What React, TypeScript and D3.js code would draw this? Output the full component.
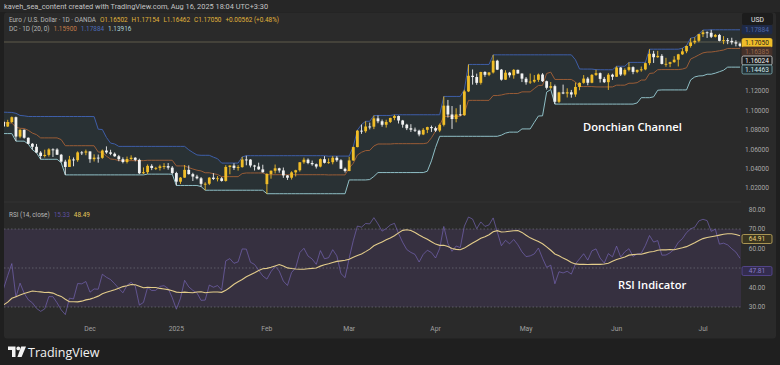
import React, { useMemo } from 'react';
import * as d3 from 'd3';

// EUR/USD daily, OANDA. The first WARMUP bars (Sep 16 – Oct 31 2024) sit left of the
// visible window; they only feed the Donchian channel and the RSI.
const WARMUP = 34;
const FIRST_DAY = '2024-09-16';
const MARKET_CLOSED = ['2024-12-25', '2025-01-01'];
const DC_LEN = 20;
const RSI_LEN = 14;
const RSI_MA_LEN = 14;

const candleOpen = [
  1.1076, 1.1132, 1.1115, 1.1118, 1.1161, 1.1163, 1.1112, 1.1180, 1.1133, 1.1177, 1.1164,
  1.1135, 1.1068, 1.1045, 1.1032, 1.0974, 1.0973, 1.0978, 1.0940, 1.0937, 1.0937, 1.0910, 1.0890, 1.0862, 1.0832, 1.0866, 1.0817, 1.0796, 1.0779, 1.0827, 1.0797, 1.0815, 1.0817, 1.0856,
  1.0883, 1.0834, 1.0880, 1.0930, 1.0730, 1.0800, 1.0718, 1.0656, 1.0625, 1.0565, 1.0530, 1.0541, 1.0598, 1.0597, 1.0543, 1.0472, 1.0417, 1.0494, 1.0487, 1.0567, 1.0565,
  1.0577, 1.0497, 1.0513, 1.0511, 1.0586, 1.0567, 1.0553, 1.0527, 1.0497, 1.0468, 1.0499, 1.0512, 1.0490, 1.0352, 1.0363, 1.0428, 1.0406, 1.0407, 1.0423, 1.0426, 1.0410,
  1.0354, 1.0265, 1.0307, 1.0387, 1.0343, 1.0318, 1.0300, 1.0243, 1.0244, 1.0307, 1.0293, 1.0300, 1.0273, 1.0417, 1.0431, 1.0407, 1.0415, 1.0494, 1.0493, 1.0432, 1.0421, 1.0392,
  1.0240, 1.0345, 1.0378, 1.0403, 1.0381, 1.0330, 1.0306, 1.0361, 1.0383, 1.0465, 1.0492, 1.0458, 1.0445, 1.0421, 1.0497, 1.0460, 1.0466, 1.0512, 1.0486, 1.0398,
  1.0375, 1.0484, 1.0622, 1.0791, 1.0785, 1.0834, 1.0832, 1.0918, 1.0888, 1.0852, 1.0881, 1.0922, 1.0942, 1.0896, 1.0853, 1.0816, 1.0801, 1.0791, 1.0752, 1.0800, 1.0828,
  1.0817, 1.0792, 1.0851, 1.1049, 1.0958, 1.0911, 1.0959, 1.0950, 1.1196, 1.1357, 1.1344, 1.1284, 1.1396, 1.1367, 1.1391, 1.1512, 1.1420, 1.1317, 1.1389, 1.1362, 1.1418, 1.1380,
  1.1327, 1.1290, 1.1297, 1.1315, 1.1370, 1.1301, 1.1233, 1.1250, 1.1089, 1.1185, 1.1174, 1.1187, 1.1164, 1.1242, 1.1284, 1.1328, 1.1285, 1.1366, 1.1384, 1.1325, 1.1291, 1.1368,
  1.1347, 1.1442, 1.1370, 1.1418, 1.1446, 1.1397, 1.1418, 1.1423, 1.1487, 1.1584, 1.1548, 1.1562, 1.1479, 1.1480, 1.1497, 1.1523, 1.1578, 1.1609, 1.1664, 1.1701, 1.1718,
  1.1786, 1.1805, 1.1800, 1.1759, 1.1778, 1.1717, 1.1724, 1.1717, 1.1702, 1.1689,
];

const candleHigh = [
  1.1134, 1.1147, 1.1189, 1.1180, 1.1179, 1.1168, 1.1182, 1.1214, 1.1190, 1.1203, 1.1209,
  1.1146, 1.1083, 1.1058, 1.1049, 1.0982, 1.0980, 1.0979, 1.0970, 1.0948, 1.0944, 1.0912, 1.0895, 1.0870, 1.0868, 1.0868, 1.0836, 1.0804, 1.0827, 1.0838, 1.0823, 1.0822, 1.0870, 1.0885,
  1.0905, 1.0903, 1.0937, 1.0936, 1.0806, 1.0803, 1.0721, 1.0663, 1.0654, 1.0580, 1.0595, 1.0610, 1.0609, 1.0610, 1.0551, 1.0491, 1.0531, 1.0515, 1.0578, 1.0581, 1.0596,
  1.0578, 1.0547, 1.0545, 1.0596, 1.0629, 1.0594, 1.0566, 1.0541, 1.0516, 1.0524, 1.0537, 1.0518, 1.0502, 1.0412, 1.0443, 1.0445, 1.0418, 1.0440, 1.0456, 1.0457, 1.0426,
  1.0367, 1.0313, 1.0437, 1.0433, 1.0357, 1.0336, 1.0313, 1.0259, 1.0312, 1.0353, 1.0323, 1.0313, 1.0435, 1.0434, 1.0455, 1.0435, 1.0521, 1.0533, 1.0497, 1.0439, 1.0461, 1.0440,
  1.0352, 1.0381, 1.0442, 1.0409, 1.0411, 1.0333, 1.0373, 1.0388, 1.0467, 1.0513, 1.0505, 1.0483, 1.0452, 1.0505, 1.0528, 1.0505, 1.0529, 1.0528, 1.0497, 1.0411,
  1.0522, 1.0627, 1.0797, 1.0854, 1.0888, 1.0874, 1.0947, 1.0948, 1.0906, 1.0904, 1.0925, 1.0955, 1.0947, 1.0902, 1.0862, 1.0858, 1.0823, 1.0801, 1.0818, 1.0832, 1.0844,
  1.0833, 1.0865, 1.1144, 1.1108, 1.1045, 1.1022, 1.1058, 1.1214, 1.1474, 1.1422, 1.1379, 1.1398, 1.1404, 1.1394, 1.1573, 1.1522, 1.1427, 1.1414, 1.1397, 1.1426, 1.1420, 1.1381,
  1.1344, 1.1380, 1.1364, 1.1380, 1.1384, 1.1307, 1.1293, 1.1266, 1.1192, 1.1266, 1.1228, 1.1211, 1.1287, 1.1288, 1.1364, 1.1345, 1.1375, 1.1419, 1.1391, 1.1345, 1.1384, 1.1378,
  1.1455, 1.1447, 1.1434, 1.1495, 1.1454, 1.1420, 1.1452, 1.1494, 1.1631, 1.1614, 1.1614, 1.1580, 1.1542, 1.1502, 1.1559, 1.1583, 1.1641, 1.1668, 1.1745, 1.1754, 1.1789,
  1.1829, 1.1815, 1.1831, 1.1788, 1.1789, 1.1766, 1.1746, 1.1749, 1.1723, 1.1700,
];

const candleLow = [
  1.1075, 1.1115, 1.1087, 1.1118, 1.1132, 1.1083, 1.1104, 1.1121, 1.1120, 1.1143, 1.1134,
  1.1032, 1.1031, 1.1003, 1.0951, 1.0954, 1.0955, 1.0935, 1.0918, 1.0926, 1.0900, 1.0885, 1.0860, 1.0811, 1.0825, 1.0812, 1.0796, 1.0761, 1.0774, 1.0795, 1.0790, 1.0792, 1.0804, 1.0836,
  1.0832, 1.0829, 1.0870, 1.0683, 1.0713, 1.0708, 1.0653, 1.0595, 1.0563, 1.0496, 1.0515, 1.0524, 1.0520, 1.0540, 1.0461, 1.0335, 1.0417, 1.0424, 1.0470, 1.0540, 1.0538,
  1.0460, 1.0473, 1.0461, 1.0501, 1.0553, 1.0538, 1.0522, 1.0476, 1.0454, 1.0453, 1.0488, 1.0475, 1.0343, 1.0343, 1.0344, 1.0384, 1.0385, 1.0380, 1.0394, 1.0389, 1.0342,
  1.0226, 1.0242, 1.0305, 1.0339, 1.0272, 1.0289, 1.0215, 1.0177, 1.0230, 1.0282, 1.0268, 1.0266, 1.0266, 1.0341, 1.0386, 1.0379, 1.0410, 1.0434, 1.0412, 1.0380, 1.0387, 1.0359,
  1.0141, 1.0296, 1.0350, 1.0358, 1.0305, 1.0283, 1.0287, 1.0319, 1.0369, 1.0450, 1.0445, 1.0430, 1.0401, 1.0413, 1.0453, 1.0449, 1.0444, 1.0470, 1.0398, 1.0359,
  1.0373, 1.0480, 1.0619, 1.0758, 1.0769, 1.0804, 1.0807, 1.0868, 1.0832, 1.0823, 1.0870, 1.0899, 1.0865, 1.0822, 1.0797, 1.0778, 1.0777, 1.0733, 1.0745, 1.0766, 1.0778,
  1.0778, 1.0776, 1.0835, 1.0926, 1.0809, 1.0877, 1.0942, 1.0944, 1.1189, 1.1266, 1.1264, 1.1266, 1.1346, 1.1353, 1.1380, 1.1416, 1.1307, 1.1315, 1.1339, 1.1327, 1.1379, 1.1292,
  1.1265, 1.1273, 1.1284, 1.1294, 1.1293, 1.1215, 1.1220, 1.1065, 1.1077, 1.1167, 1.1133, 1.1131, 1.1140, 1.1208, 1.1275, 1.1259, 1.1280, 1.1355, 1.1287, 1.1282, 1.1211, 1.1314,
  1.1345, 1.1355, 1.1357, 1.1402, 1.1373, 1.1384, 1.1399, 1.1414, 1.1466, 1.1489, 1.1542, 1.1474, 1.1450, 1.1446, 1.1492, 1.1453, 1.1572, 1.1590, 1.1647, 1.1683, 1.1703,
  1.1756, 1.1747, 1.1746, 1.1752, 1.1712, 1.1683, 1.1683, 1.1679, 1.1660, 1.1652,
];

const candleClose = [
  1.1132, 1.1115, 1.1118, 1.1161, 1.1163, 1.1112, 1.1180, 1.1133, 1.1177, 1.1164, 1.1135,
  1.1068, 1.1045, 1.1032, 1.0974, 1.0973, 1.0978, 1.0940, 1.0937, 1.0937, 1.0910, 1.0890, 1.0862, 1.0832, 1.0866, 1.0817, 1.0796, 1.0779, 1.0827, 1.0797, 1.0815, 1.0817, 1.0856, 1.0883,
  1.0834, 1.0880, 1.0930, 1.0730, 1.0800, 1.0718, 1.0656, 1.0625, 1.0565, 1.0530, 1.0541, 1.0598, 1.0597, 1.0543, 1.0472, 1.0417, 1.0494, 1.0487, 1.0567, 1.0565, 1.0577,
  1.0497, 1.0513, 1.0511, 1.0586, 1.0567, 1.0553, 1.0527, 1.0497, 1.0468, 1.0499, 1.0512, 1.0490, 1.0352, 1.0363, 1.0428, 1.0406, 1.0407, 1.0423, 1.0426, 1.0410, 1.0354,
  1.0265, 1.0307, 1.0387, 1.0343, 1.0318, 1.0300, 1.0243, 1.0244, 1.0307, 1.0293, 1.0300, 1.0273, 1.0417, 1.0431, 1.0407, 1.0415, 1.0494, 1.0493, 1.0432, 1.0421, 1.0392, 1.0362,
  1.0345, 1.0378, 1.0403, 1.0381, 1.0330, 1.0306, 1.0361, 1.0383, 1.0465, 1.0492, 1.0458, 1.0445, 1.0421, 1.0497, 1.0460, 1.0466, 1.0512, 1.0486, 1.0398, 1.0375,
  1.0484, 1.0622, 1.0791, 1.0785, 1.0834, 1.0832, 1.0918, 1.0888, 1.0852, 1.0881, 1.0922, 1.0942, 1.0896, 1.0853, 1.0816, 1.0801, 1.0791, 1.0752, 1.0800, 1.0828, 1.0817,
  1.0792, 1.0851, 1.1049, 1.0958, 1.0911, 1.0959, 1.0950, 1.1196, 1.1357, 1.1344, 1.1284, 1.1396, 1.1367, 1.1391, 1.1512, 1.1420, 1.1317, 1.1389, 1.1362, 1.1418, 1.1380, 1.1327,
  1.1290, 1.1297, 1.1315, 1.1370, 1.1301, 1.1233, 1.1250, 1.1089, 1.1185, 1.1174, 1.1187, 1.1164, 1.1242, 1.1284, 1.1328, 1.1285, 1.1366, 1.1384, 1.1325, 1.1291, 1.1368, 1.1347,
  1.1442, 1.1370, 1.1418, 1.1446, 1.1397, 1.1418, 1.1423, 1.1487, 1.1584, 1.1548, 1.1562, 1.1479, 1.1480, 1.1497, 1.1523, 1.1578, 1.1609, 1.1664, 1.1701, 1.1718, 1.1786,
  1.1805, 1.1800, 1.1759, 1.1778, 1.1717, 1.1724, 1.1717, 1.1702, 1.1689, 1.1665,
];

const priceTicks = [1.02, 1.04, 1.06, 1.08, 1.1, 1.12];
const rsiTicks = [80, 70, 60, 40, 30];
const rsiBands = [70, 50, 30];
const monthNames = ['Jan', 'Feb', 'Mar', 'Apr', 'May', 'Jun', 'Jul', 'Aug', 'Sep', 'Oct', 'Nov', 'Dec'];

const lastPrice = 1.1705;
const headerSymbol = 'Euro / U.S. Dollar · 1D · OANDA';
const headerOhlc = ['O1.16502', 'H1.17154', 'L1.16462', 'C1.17050', '+0.00562 (+0.48%)'];
const headerDc = ['1.15900', '1.17884', '1.13916'];
const headerRsi = ['15.33', '48.49'];
const priceTags = { upper: '1.17884', close: '1.17050', basis: '1.16385', mark: '1.16024', lower: '1.14463' };
const rsiTags = { ma: '64.91', rsi: '47.81' };

function tradingDays(start: string, count: number): Date[] {
  const out: Date[] = [];
  const d = new Date(start + 'T00:00:00Z');
  while (out.length < count) {
    const dow = d.getUTCDay();
    const iso = d.toISOString().slice(0, 10);
    if (dow !== 0 && dow !== 6 && !MARKET_CLOSED.includes(iso)) out.push(new Date(d));
    d.setUTCDate(d.getUTCDate() + 1);
  }
  return out;
}

function wilderRsi(closes: number[], len: number): number[] {
  const out = closes.map(() => NaN);
  let ag = 0, al = 0;
  for (let i = 1; i < closes.length; i++) {
    const ch = closes[i] - closes[i - 1];
    const g = Math.max(ch, 0), l = Math.max(-ch, 0);
    if (i <= len) {
      ag += g / len;
      al += l / len;
    } else {
      ag = (ag * (len - 1) + g) / len;
      al = (al * (len - 1) + l) / len;
    }
    if (i >= len) out[i] = al === 0 ? 100 : 100 - 100 / (1 + ag / al);
  }
  return out;
}

const FONT = "Roboto, 'Noto Sans', sans-serif";
const BOLD = "'Open Sans', 'Noto Sans', sans-serif";

const Tag = ({ y, text, fill, stroke, color }: { y: number; text: string; fill: string; stroke: string; color: string }) => (
  <g>
    <rect x={742} y={y - 4.5} width={30} height={9} rx={1.5} fill={fill} stroke={stroke} strokeWidth={0.8} />
    <text x={757} y={y + 2.4} textAnchor="middle" fontSize={6.6} fill={color} fontFamily={FONT}>{text}</text>
  </g>
);

export default function App() {
  const W = 780, H = 365;
  const n = candleClose.length;

  const calc = useMemo(() => {
    const dates = tradingDays(FIRST_DAY, n);
    const upper = candleHigh.map((_, i) => d3.max(candleHigh.slice(Math.max(0, i - DC_LEN + 1), i + 1)) as number);
    const lower = candleLow.map((_, i) => d3.min(candleLow.slice(Math.max(0, i - DC_LEN + 1), i + 1)) as number);
    const basis = upper.map((u, i) => (u + lower[i]) / 2);
    const rsi = wilderRsi(candleClose, RSI_LEN);
    const rsiMa = rsi.map((_, i) => {
      const win = rsi.slice(Math.max(0, i - RSI_MA_LEN + 1), i + 1).filter((v) => !isNaN(v));
      return win.length === RSI_MA_LEN ? (d3.mean(win) as number) : NaN;
    });
    return { dates, upper, lower, basis, rsi, rsiMa };
  }, [n]);

  // layout
  const plotL = 4, plotR = 741;
  const priceTop = 13, priceBot = 201;
  const rsiTop = 203, rsiBot = 317;

  const x = d3.scaleLinear().domain([WARMUP, n - 1]).range([3.6, 3.6 + 4.114 * (n - 1 - WARMUP)]);
  const yP = d3.scaleLinear().domain([1.02, 1.12]).range([188, 91]);
  const yR = d3.scaleLinear().domain([30, 70]).range([307, 229]);

  const idx = d3.range(WARMUP - 1, n);

  const lineOf = (arr: number[], y: (v: number) => number) =>
    d3.line<number>().defined((i) => !isNaN(arr[i])).x((i) => x(i)).y((i) => y(arr[i]))(idx) || '';

  const channelArea = d3.area<number>()
    .x((i) => x(i))
    .y0((i) => yP(calc.lower[i]))
    .y1((i) => yP(calc.upper[i]))(idx) || '';

  const monthTicks: { i: number; label: string }[] = [];
  for (let i = WARMUP + 1; i < n; i++) {
    const a = calc.dates[i - 1], b = calc.dates[i];
    if (a.getUTCMonth() !== b.getUTCMonth()) {
      monthTicks.push({ i, label: b.getUTCMonth() === 0 ? String(b.getUTCFullYear()) : monthNames[b.getUTCMonth()] });
    }
  }

  const up = '#f0bd28';
  const down = '#f2f2f2';
  const bodyW = 2.8;

  return (
    <svg width={W} height={H} viewBox={`0 0 ${W} ${H}`} style={{ position: 'fixed', left: 0, top: 0, display: 'block' }}>
      <defs>
        <clipPath id="price-clip"><rect x={plotL} y={priceTop} width={plotR - plotL} height={priceBot - priceTop} /></clipPath>
        <clipPath id="rsi-clip"><rect x={plotL} y={rsiTop} width={plotR - plotL} height={rsiBot - rsiTop} /></clipPath>
      </defs>

      {/* frame */}
      <rect x={0} y={0} width={W} height={H} fill="#1f1f1f" />
      <rect x={0} y={0} width={W} height={12} fill="#262626" />
      <rect x={4} y={12.5} width={772} height={326} rx={3} fill="#2a2a2a" />
      <text x={4} y={8.6} fontSize={7.4} fill="#c4c4c4" fontFamily={FONT}>
        kaveh_sea_content created with TradingView.com, Aug 16, 2025 18:04 UTC+3:30
      </text>

      {/* price pane */}
      <g clipPath="url(#price-clip)">
        <path d={channelArea} fill="#2b8fb3" opacity={0.08} />
        <line x1={plotL} x2={plotR} y1={yP(lastPrice)} y2={yP(lastPrice)} stroke="#8c8466" strokeWidth={0.8} opacity={0.7} />
        <path d={lineOf(calc.upper, yP)} fill="none" stroke="#3e5ea8" strokeWidth={1} />
        <path d={lineOf(calc.basis, yP)} fill="none" stroke="#9a5c36" strokeWidth={1} />
        <path d={lineOf(calc.lower, yP)} fill="none" stroke="#8fbfc6" strokeWidth={1} />
        {idx.map((i) => {
          const o = candleOpen[i], c = candleClose[i];
          const col = c >= o ? up : down;
          const top = yP(Math.max(o, c)), bot = yP(Math.min(o, c));
          return (
            <g key={i}>
              <line x1={x(i)} x2={x(i)} y1={yP(candleHigh[i])} y2={yP(candleLow[i])} stroke={col} strokeWidth={0.9} />
              <rect x={x(i) - bodyW / 2} y={top} width={bodyW} height={Math.max(0.9, bot - top)} fill={col} />
            </g>
          );
        })}
      </g>

      <text x={9} y={21.5} fontSize={6.4} fontFamily={FONT}>
        <tspan fill="#b8b8b8">{headerSymbol}</tspan>
        {headerOhlc.map((t, k) => (
          <tspan key={k} dx={4} fill="#e0b43a">{t}</tspan>
        ))}
      </text>
      <text x={9} y={30.5} fontSize={6.4} fontFamily={FONT}>
        <tspan fill="#b8b8b8">DC · 1D (20, 0)</tspan>
        <tspan dx={4} fill="#c27a48">{headerDc[0]}</tspan>
        <tspan dx={4} fill="#4a6ab8">{headerDc[1]}</tspan>
        <tspan dx={4} fill="#a9d2d8">{headerDc[2]}</tspan>
      </text>

      <text x={583} y={131} fontSize={11.2} fontWeight={600} fill="#ffffff" fontFamily={BOLD}>Donchian Channel</text>

      {/* price axis */}
      {priceTicks.map((t) => (
        <text key={t} x={757} y={yP(t) + 2.4} textAnchor="middle" fontSize={6.6} fill="#a8a8a8" fontFamily={FONT}>{t.toFixed(5)}</text>
      ))}
      <Tag y={29.5} text={priceTags.upper} fill="#1f2a46" stroke="#1f2a46" color="#4e66a8" />
      <rect x={742} y={13} width={31} height={12} rx={2} fill="#1c1c1c" />
      <text x={757.5} y={21.6} textAnchor="middle" fontSize={6.8} fill="#e6e6e6" fontFamily={FONT}>USD</text>
      <Tag y={43} text={priceTags.close} fill="#f0bd28" stroke="#f0bd28" color="#1e1e1e" />
      <Tag y={51.5} text={priceTags.basis} fill="#45312a" stroke="#45312a" color="#96684a" />
      <Tag y={60.5} text={priceTags.mark} fill="#1e1e1e" stroke="#d8d8d8" color="#f0f0f0" />
      <Tag y={69.5} text={priceTags.lower} fill="#233034" stroke="#7fb0b6" color="#cfe6e8" />

      {/* rsi pane */}
      <line x1={plotL} x2={plotR} y1={202} y2={202} stroke="#333333" strokeWidth={1} />
      <rect x={plotL} y={yR(70)} width={plotR - plotL} height={yR(30) - yR(70)} fill="#7e57c2" opacity={0.15} />
      {rsiBands.map((b) => (
        <line key={b} x1={plotL} x2={plotR} y1={yR(b)} y2={yR(b)} stroke="#8a8d96" strokeWidth={0.8} strokeDasharray="1.5 2" opacity={0.6} />
      ))}
      <g clipPath="url(#rsi-clip)">
        <path d={lineOf(calc.rsi, yR)} fill="none" stroke="#7e6cc4" strokeWidth={1} opacity={0.6} />
        <path d={lineOf(calc.rsiMa, yR)} fill="none" stroke="#e3cc8a" strokeWidth={1.1} />
      </g>
      <text x={9} y={217} fontSize={6.4} fontFamily={FONT}>
        <tspan fill="#b8b8b8">RSI (14, close)</tspan>
        <tspan dx={4} fill="#5d4fa0">{headerRsi[0]}</tspan>
        <tspan dx={4} fill="#e3c85a">{headerRsi[1]}</tspan>
      </text>
      <text x={618} y={289} fontSize={11.2} fontWeight={600} fill="#ffffff" fontFamily={BOLD}>RSI Indicator</text>

      {rsiTicks.map((t) => (
        <text key={t} x={757} y={yR(t) + 2.4} textAnchor="middle" fontSize={6.6} fill="#a8a8a8" fontFamily={FONT}>{t.toFixed(2)}</text>
      ))}
      <Tag y={239} text={rsiTags.ma} fill="#3a3520" stroke="#c9b060" color="#e8d27a" />
      <Tag y={271} text={rsiTags.rsi} fill="#332c4e" stroke="#5a4a9a" color="#8a7cc8" />

      {/* time axis */}
      {monthTicks.filter((m) => x(m.i) > 20).map((m) => (
        <text key={m.i} x={x(m.i)} y={331} textAnchor="middle" fontSize={6.8} fill="#a0a0a0" fontFamily={FONT}>{m.label}</text>
      ))}

      {/* TradingView logo */}
      <g fill="#f2f2f2">
        <path d="M8 346.5 H15.5 V357 H12 V350 H8 Z" />
        <circle cx={18.3} cy={348.4} r={1.9} />
        <path d="M21.2 346.5 H26 L21.6 357 H17.4 Z" />
      </g>
      <text x={28} y={356.5} fontSize={12.5} fontWeight={500} fill="#f2f2f2" fontFamily={BOLD}>TradingView</text>
    </svg>
  );
}
